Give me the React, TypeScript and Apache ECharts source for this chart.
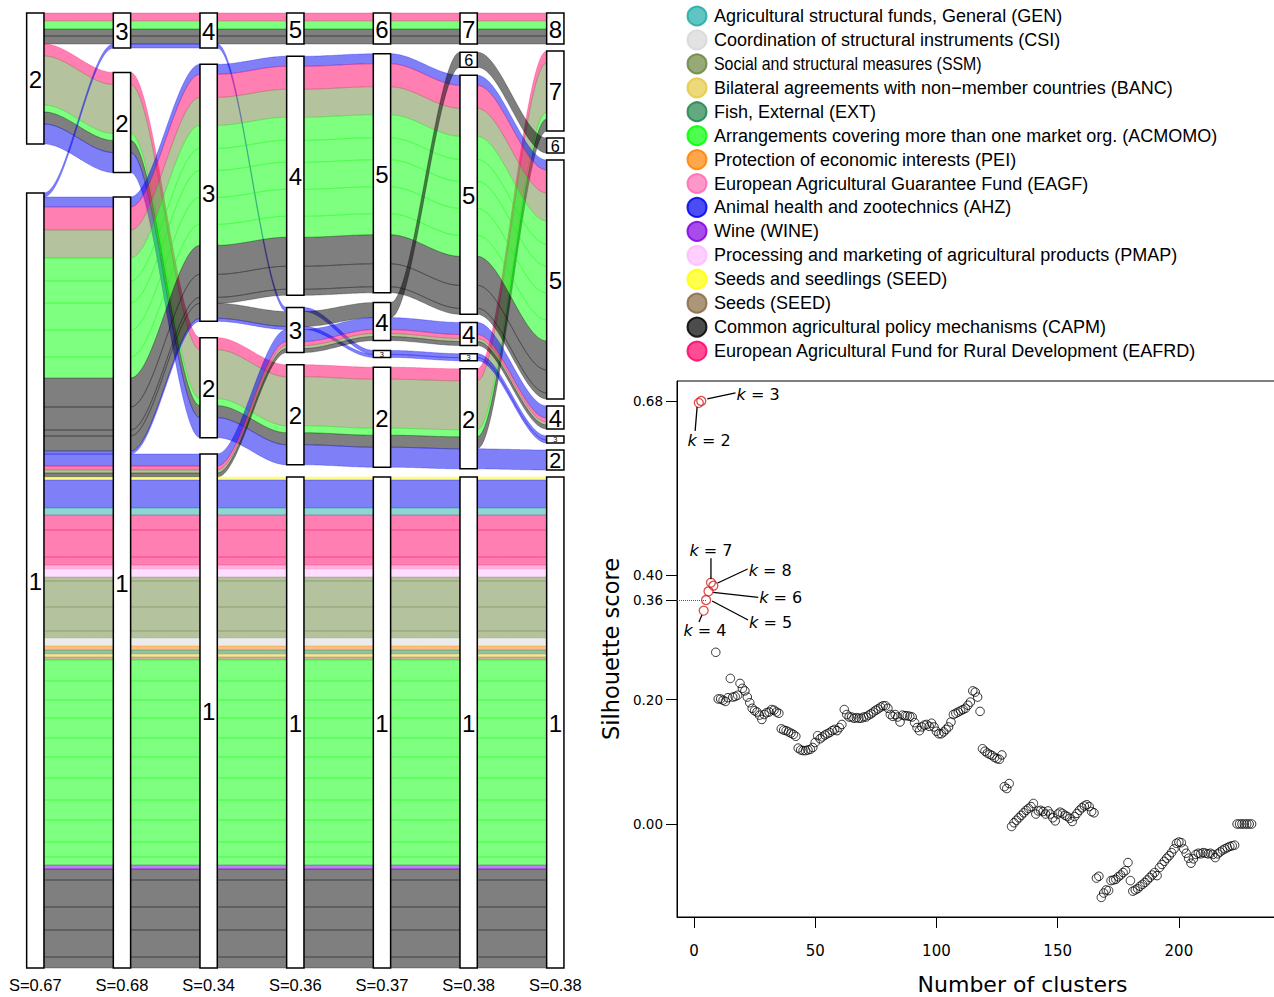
import React, { useEffect, useRef } from "react";
import * as echarts from "echarts";

// ---------------- Alluvial data ----------------
const axisK = [2, 3, 4, 5, 6, 7, 8];
const axisSilhouette = ["S=0.67", "S=0.68", "S=0.34", "S=0.36", "S=0.37", "S=0.38", "S=0.38"];

const categoryCodes = ["GEN", "CSI", "SSM", "BANC", "EXT", "ACMOMO", "PEI", "EAGF", "AHZ", "WINE", "PMAP", "SEED", "SEEDS", "CAPM", "EAFRD"];
const categoryLabels = [
  "Agricultural structural funds, General (GEN)",
  "Coordination of structural instruments (CSI)",
  "Social and structural measures (SSM)",
  "Bilateral agreements with non\u2212member countries (BANC)",
  "Fish, External (EXT)",
  "Arrangements covering more than one market org. (ACMOMO)",
  "Protection of economic interests (PEI)",
  "European Agricultural Guarantee Fund (EAGF)",
  "Animal health and zootechnics (AHZ)",
  "Wine (WINE)",
  "Processing and marketing of agricultural products (PMAP)",
  "Seeds and seedlings (SEED)",
  "Seeds (SEED)",
  "Common agricultural policy mechanisms (CAPM)",
  "European Agricultural Fund for Rural Development (EAFRD)",
];
const categoryColors = ["#1dada5", "#d7d7d7", "#6b853d", "#e5c941", "#1f854d", "#00ff00", "#ff8100", "#ff69b4", "#0000f0", "#8100e1", "#ffbbff", "#ffff00", "#896941", "#000000", "#ff0066"];

// cluster of each group of items for k = 2..8
const groupPaths = [
  [2, 3, 4, 5, 6, 7, 8],
  [2, 2, 2, 2, 2, 2, 7],
  [2, 2, 2, 2, 2, 2, 2],
  [1, 3, 4, 3, 3, 3, 3],
  [1, 1, 3, 4, 5, 5, 5],
  [1, 1, 3, 3, 4, 6, 6],
  [1, 1, 3, 3, 3, 3, 3],
  [1, 1, 1, 3, 4, 4, 4],
  [1, 1, 1, 1, 1, 1, 1],
];
// item counts by category within each group
const groupSegments: [string, number][][] = [
  [["EAFRD", 8], ["ACMOMO", 8], ["CAPM", 7], ["CAPM", 8]],
  [["EAFRD", 12], ["SSM", 49], ["ACMOMO", 7], ["CAPM", 12]],
  [["AHZ", 20]],
  [["AHZ", 4]],
  [["AHZ", 10], ["EAFRD", 23], ["SSM", 28], ["ACMOMO", 23], ["ACMOMO", 22], ["ACMOMO", 27], ["ACMOMO", 27], ["ACMOMO", 21], ["CAPM", 29], ["CAPM", 23], ["CAPM", 6]],
  [["CAPM", 15]],
  [["AHZ", 3]],
  [["AHZ", 12], ["EAFRD", 4], ["SSM", 3], ["CAPM", 4]],
  [["SEED", 3], ["AHZ", 28], ["GEN", 7], ["EAFRD", 15], ["EAFRD", 27], ["EAFRD", 8], ["EAGF", 4], ["PMAP", 8],
   ["SSM", 4], ["SSM", 26], ["SSM", 24], ["SSM", 7], ["CSI", 8], ["PEI", 4], ["EXT", 4], ["BANC", 3], ["SEEDS", 3],
   ["ACMOMO", 21], ["ACMOMO", 19], ["ACMOMO", 18], ["ACMOMO", 20], ["ACMOMO", 19], ["ACMOMO", 21], ["ACMOMO", 22], ["ACMOMO", 20], ["ACMOMO", 22], ["ACMOMO", 15], ["ACMOMO", 8],
   ["WINE", 4], ["CAPM", 11], ["CAPM", 27], ["CAPM", 23], ["CAPM", 27], ["CAPM", 11]],
];

// ---------------- Silhouette data ----------------
const firstK = 2;
const silhouette = [
  0.677, 0.680, 0.343, 0.36, 0.374, 0.388, 0.383, 0.276,
  0.201, 0.201, 0.199, 0.197, 0.203, 0.234, 0.204, 0.205, 0.207, 0.226,
  0.218, 0.214, 0.204, 0.195, 0.186, 0.182, 0.180, 0.175, 0.168, 0.176,
  0.179, 0.180, 0.184, 0.183, 0.180, 0.178, 0.153, 0.151, 0.150, 0.148,
  0.146, 0.144, 0.141, 0.122, 0.119, 0.118, 0.118, 0.119, 0.120, 0.123,
  0.131, 0.142, 0.137, 0.140, 0.143, 0.145, 0.147, 0.150, 0.152, 0.150,
  0.155, 0.160, 0.184, 0.176, 0.172, 0.172, 0.170, 0.171, 0.170, 0.170,
  0.172, 0.172, 0.175, 0.177, 0.180, 0.183, 0.185, 0.188, 0.190, 0.190,
  0.186, 0.176, 0.173, 0.176, 0.172, 0.164, 0.175, 0.174, 0.174, 0.173,
  0.172, 0.163, 0.155, 0.150, 0.156, 0.159, 0.160, 0.157, 0.162, 0.156,
  0.149, 0.145, 0.145, 0.148, 0.152, 0.156, 0.164, 0.176, 0.178, 0.180,
  0.182, 0.184, 0.186, 0.191, 0.196, 0.214, 0.212, 0.204, 0.181, 0.121,
  0.117, 0.114, 0.112, 0.110, 0.107, 0.105, 0.104, 0.111, 0.060, 0.057,
  0.065, -0.004, 0.002, 0.006, 0.010, 0.014, 0.018, 0.022, 0.025, 0.028,
  0.033, 0.016, 0.021, 0.022, 0.020, 0.016, 0.021, 0.016, 0.010, 0.005,
  0.016, 0.019, 0.017, 0.014, 0.012, 0.009, 0.004, 0.012, 0.017, 0.022,
  0.026, 0.029, 0.031, 0.028, 0.020, 0.018, -0.087, -0.084, -0.118, -0.111,
  -0.106, -0.107, -0.091, -0.090, -0.089, -0.085, -0.082, -0.078, -0.075, -0.062,
  -0.091, -0.108, -0.106, -0.104, -0.100, -0.097, -0.094, -0.090, -0.086, -0.082,
  -0.078, -0.083, -0.070, -0.065, -0.060, -0.055, -0.051, -0.046, -0.040, -0.031,
  -0.029, -0.030, -0.040, -0.047, -0.055, -0.063, -0.056, -0.049, -0.047, -0.048,
  -0.046, -0.047, -0.048, -0.047, -0.049, -0.054, -0.048, -0.045, -0.042, -0.040,
  -0.038, -0.036, -0.035, -0.034, 0.0, 0.0, 0.0, 0.0, 0.0, 0.0, 0.0,
];
const highlightedK = [2, 3, 4, 5, 6, 7, 8];
const dottedK = 5;
const yTickValues = [0, 0.2, 0.36, 0.4, 0.68];
const xTickValues = [0, 50, 100, 150, 200];

// ---------------- styles / layout ----------------
const FONT_A = "'Liberation Sans', Arial, sans-serif";
const FONT_B = "'DejaVu Sans', sans-serif";
const HALF_BOX = 8.65;
const TOTAL_GAP = 49;
const LEGEND_SCALE_X = [1, 1, 0.884, 1, 1, 1, 1, 1, 1, 1, 1, 1, 1, 1, 1];

// leader-line and label offsets (px) relative to each highlighted point
const kLabelLayout: { l: number[]; t: number[]; align: string }[] = [
  { l: [-3.7, 28, -1.7, 4], t: [10.3, 38], align: "center" },
  { l: [6, -2, 34.3, -8], t: [35.3, -6], align: "left" },
  { l: [-4.7, 11.3, -1.7, 4.3], t: [1.3, 20.3], align: "center" },
  { l: [6, 1, 42, 20], t: [43, 22], align: "left" },
  { l: [4.7, 1, 49.7, 6], t: [50.7, 6], align: "left" },
  { l: [0, -24.3, 0, -3.3], t: [0, -32.3], align: "center" },
  { l: [4.3, -2.7, 34.3, -16.7], t: [35.3, -15.7], align: "left" },
];

function rgba(hex: string, a: number) {
  const n = parseInt(hex.slice(1), 16);
  return `rgba(${(n >> 16) & 255},${(n >> 8) & 255},${n & 255},${a})`;
}

function buildAlluvial() {
  const nA = axisK.length;
  const segPos = groupSegments.map((segs) => segs.map(() => new Array(nA)));
  const boxes: number[][] = [];
  let total = 0;
  for (let a = 0; a < nA; a++) {
    const clusters = Array.from(new Set(groupPaths.map((p) => p[a]))).sort((x, y) => y - x);
    const gap = clusters.length > 1 ? TOTAL_GAP / (clusters.length - 1) : 0;
    let y = 0;
    clusters.forEach((c, ci) => {
      const top = y;
      groupPaths.forEach((p, g) => {
        if (p[a] !== c) return;
        groupSegments[g].forEach((s, si) => {
          segPos[g][si][a] = [y, y + s[1]];
          y += s[1];
        });
      });
      boxes.push([a, top, y, c]);
      if (ci < clusters.length - 1) y += gap;
    });
    total = Math.max(total, y);
  }
  const ribbons: number[][] = [];
  for (let a = 0; a < nA - 1; a++) {
    groupSegments.forEach((segs, g) =>
      segs.forEach((s, si) => {
        const L = segPos[g][si][a];
        const R = segPos[g][si][a + 1];
        ribbons.push([a, L[0], L[1], R[0], R[1], categoryCodes.indexOf(s[0])]);
      })
    );
  }
  return { boxes, ribbons, total };
}

const ease = (t: number) => t * t * (3 - 2 * t);

function buildOption() {
  const { boxes, ribbons, total } = buildAlluvial();
  const points = silhouette.map((v, i) => [firstK + i, v]);
  const redPts = points.filter((p) => highlightedK.indexOf(p[0]) >= 0);
  const blackPts = points.filter((p) => highlightedK.indexOf(p[0]) < 0);
  const dottedV = silhouette[dottedK - firstK];

  const legendGraphics: any[] = [];
  categoryLabels.forEach((lab, i) => {
    const cy = 16 + i * 23.93;
    const col = categoryColors[i];
    legendGraphics.push({
      type: "circle",
      shape: { cx: 697, cy, r: 9.5 },
      style: { fill: rgba(col, 0.7), stroke: rgba(col, 0.85), lineWidth: 2 },
    });
    legendGraphics.push({
      type: "text",
      x: 714,
      y: cy,
      scaleX: LEGEND_SCALE_X[i],
      style: { text: lab, fontSize: 18, fontFamily: FONT_A, fill: "#000", verticalAlign: "middle", align: "left" },
    });
  });

  return {
    animation: false,
    backgroundColor: "#fff",
    textStyle: { fontFamily: FONT_A },
    grid: [
      { left: 35.3, top: 13, width: 520, height: 955, containLabel: false, outerBoundsMode: "none" },
      { left: 677, top: 381, width: 691, height: 536, containLabel: false, outerBoundsMode: "none", show: true, borderColor: "#000", borderWidth: 1, backgroundColor: "rgba(0,0,0,0)" },
    ],
    xAxis: [
      {
        type: "category", gridIndex: 0, data: axisSilhouette, boundaryGap: false,
        axisLine: { show: false }, axisTick: { show: false }, splitLine: { show: false },
        axisLabel: { interval: 0, fontSize: 16.5, fontFamily: FONT_A, color: "#000", margin: 8 },
      },
      {
        type: "value", gridIndex: 1, min: -7, max: 278,
        axisLine: { show: true, onZero: false, lineStyle: { color: "#000", width: 1 } },
        axisTick: { show: true, length: 11, customValues: xTickValues, lineStyle: { color: "#000" } },
        axisLabel: { customValues: xTickValues, fontSize: 15, fontFamily: FONT_B, color: "#000", margin: 26 },
        splitLine: { show: false },
        name: "Number of clusters", nameLocation: "middle", nameGap: 56,
        nameTextStyle: { fontSize: 22, fontFamily: FONT_B, color: "#000" },
      },
    ],
    yAxis: [
      { type: "value", gridIndex: 0, inverse: true, min: 0, max: total, show: false },
      {
        type: "value", gridIndex: 1, min: -0.1495, max: 0.7121,
        axisLine: { show: true, onZero: false, lineStyle: { color: "#000", width: 1 } },
        axisTick: { show: true, length: 11, customValues: yTickValues, lineStyle: { color: "#000" } },
        axisLabel: { customValues: yTickValues, formatter: (v: number) => v.toFixed(2), fontSize: 13.5, fontFamily: FONT_B, color: "#000", margin: 14 },
        splitLine: { show: false },
        name: "Silhouette score", nameLocation: "middle", nameGap: 54, nameRotate: 90,
        nameTextStyle: { fontSize: 22.5, fontFamily: FONT_B, color: "#000" },
      },
    ],
    graphic: legendGraphics,
    series: [
      {
        type: "custom", xAxisIndex: 0, yAxisIndex: 0, clip: false, silent: true,
        data: ribbons,
        renderItem: (params: any, api: any) => {
          const a = api.value(0);
          const l0 = api.coord([a, api.value(1)]);
          const l1 = api.coord([a, api.value(2)]);
          const r0 = api.coord([a + 1, api.value(3)]);
          const r1 = api.coord([a + 1, api.value(4)]);
          const xl = l0[0] + HALF_BOX;
          const xr = r0[0] - HALF_BOX;
          const N = 30;
          const pts: number[][] = [];
          for (let i = 0; i <= N; i++) {
            const t = i / N;
            pts.push([xl + (xr - xl) * t, l0[1] + (r0[1] - l0[1]) * ease(t)]);
          }
          for (let i = N; i >= 0; i--) {
            const t = i / N;
            pts.push([xl + (xr - xl) * t, l1[1] + (r1[1] - l1[1]) * ease(t)]);
          }
          const col = categoryColors[api.value(5)];
          return {
            type: "polygon",
            shape: { points: pts },
            style: { fill: rgba(col, 0.5), stroke: rgba(col, 0.45), lineWidth: 0.6 },
          };
        },
        z: 2,
      },
      {
        type: "custom", xAxisIndex: 0, yAxisIndex: 0, clip: false, silent: true,
        data: boxes,
        renderItem: (params: any, api: any) => {
          const a = api.value(0);
          const p0 = api.coord([a, api.value(1)]);
          const p1 = api.coord([a, api.value(2)]);
          const h = p1[1] - p0[1];
          const fs = Math.min(24, h * 1.08);
          return {
            type: "group",
            children: [
              { type: "rect", shape: { x: p0[0] - HALF_BOX, y: p0[1], width: HALF_BOX * 2, height: h }, style: { fill: "#fff", stroke: "#000", lineWidth: 1.5 } },
              { type: "text", x: p0[0], y: (p0[1] + p1[1]) / 2 + fs * 0.04, style: { text: String(api.value(3)), fontSize: fs, fontFamily: FONT_A, fill: "#000", align: "center", verticalAlign: "middle" } },
            ],
          };
        },
        z: 3,
      },
      {
        type: "scatter", xAxisIndex: 1, yAxisIndex: 1, silent: true,
        data: blackPts, symbol: "circle", symbolSize: 8.5,
        itemStyle: { color: "rgba(0,0,0,0)", borderColor: "#000", borderWidth: 1 },
        z: 4,
      },
      {
        type: "scatter", xAxisIndex: 1, yAxisIndex: 1, silent: true,
        data: redPts, symbol: "circle", symbolSize: 9,
        itemStyle: { color: "rgba(0,0,0,0)", borderColor: "#d42020", borderWidth: 1.3 },
        markLine: {
          silent: true, symbol: ["none", "none"], label: { show: false },
          lineStyle: { type: "dotted", color: "#555", width: 1 },
          data: [[{ coord: [-7, dottedV] }, { coord: [dottedK, dottedV] }]],
        },
        z: 5,
      },
      {
        type: "custom", xAxisIndex: 1, yAxisIndex: 1, clip: false, silent: true,
        data: redPts,
        renderItem: (params: any, api: any) => {
          const k = api.value(0);
          const p = api.coord([k, api.value(1)]);
          const cfg = kLabelLayout[params.dataIndex];
          return {
            type: "group",
            children: [
              { type: "line", shape: { x1: p[0] + cfg.l[0], y1: p[1] + cfg.l[1], x2: p[0] + cfg.l[2], y2: p[1] + cfg.l[3] }, style: { stroke: "#000", lineWidth: 1.3 } },
              {
                type: "text", x: p[0] + cfg.t[0], y: p[1] + cfg.t[1],
                style: {
                  text: "{i|k} = " + k,
                  rich: { i: { fontStyle: "italic", fontFamily: FONT_B, fontSize: 16, fill: "#000" } },
                  fontFamily: FONT_B, fontSize: 16, fill: "#000", align: cfg.align, verticalAlign: "middle",
                },
              },
            ],
          };
        },
        z: 6,
      },
    ],
  };
}

export default function App() {
  const ref = useRef<HTMLDivElement>(null);
  useEffect(() => {
    const chart = echarts.init(ref.current as HTMLDivElement, null, { renderer: "svg" });
    chart.setOption(buildOption() as any);
    return () => chart.dispose();
  }, []);
  return <div ref={ref} style={{ position: "absolute", left: 0, top: 0, width: 1274, height: 997, background: "#fff" }} />;
}
